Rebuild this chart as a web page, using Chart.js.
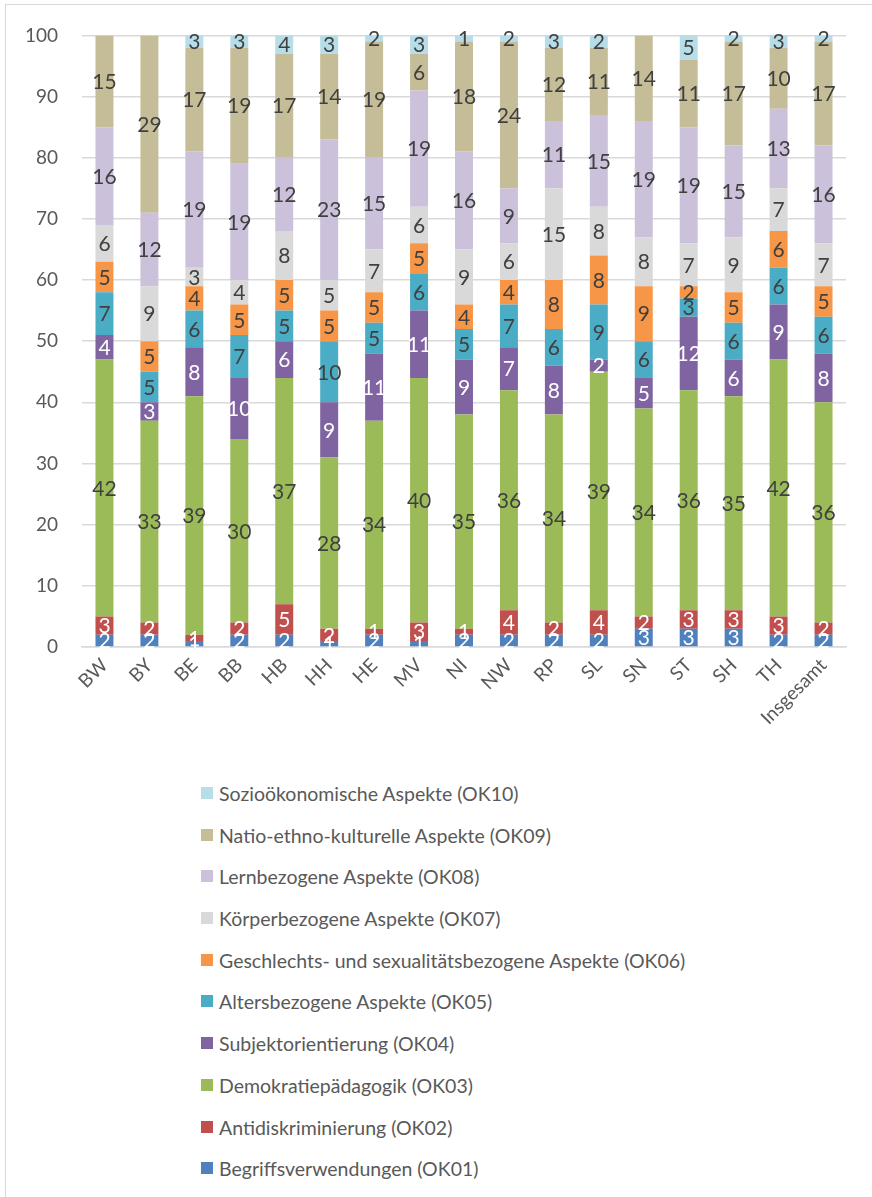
<!DOCTYPE html>
<html lang="de">
<head>
<meta charset="utf-8">
<title>Orientierungskategorien nach Ländern</title>
<script src="https://cdn.jsdelivr.net/npm/chart.js@4"></script>
<style>
  html, body { margin: 0; padding: 0; background: #fff; overflow: hidden; }
  #page { position: relative; width: 872px; height: 1197px; overflow: hidden; }
  #frame { position: absolute; left: 5px; top: 4px; width: 920px; height: 1250px;
           border: 1.5px solid #d9d9d9; box-sizing: border-box; }
  #chartBox { position: absolute; left: 0; top: 0; width: 872px; height: 770px; }
  #legend { position: absolute; left: 201px; top: 782px; margin: 0; padding: 0; list-style: none;
            font-family: Lato, "Open Sans", sans-serif; font-size: 19.5px; color: #595959; }
  #legend li { height: 41.7px; display: flex; align-items: flex-start; white-space: nowrap; }
  #legend .box { width: 12px; height: 12px; margin-top: 5px; margin-right: 6px; flex: none; }
</style>
</head>
<body>
<div id="page">
  <div id="frame"></div>
  <div id="chartBox"><canvas id="stackChart"></canvas></div>
  <ul id="legend"></ul>
</div>
<script>
const laender = ['BW', 'BY', 'BE', 'BB', 'HB', 'HH', 'HE', 'MV', 'NI', 'NW', 'RP', 'SL', 'SN', 'ST', 'SH', 'TH', 'Insgesamt'];

// Anteile in Prozent je Orientierungskategorie
const ok01 = [2, 2, 1, 2, 2, 1, 2, 1, 2, 2, 2, 2, 3, 3, 3, 2, 2];
const ok02 = [3, 2, 1, 2, 5, 2, 1, 3, 1, 4, 2, 4, 2, 3, 3, 3, 2];
const ok03 = [42, 33, 39, 30, 37, 28, 34, 40, 35, 36, 34, 39, 34, 36, 35, 42, 36];
const ok04 = [4, 3, 8, 10, 6, 9, 11, 11, 9, 7, 8, 2, 5, 12, 6, 9, 8];
const ok05 = [7, 5, 6, 7, 5, 10, 5, 6, 5, 7, 6, 9, 6, 3, 6, 6, 6];
const ok06 = [5, 5, 4, 5, 5, 5, 5, 5, 4, 4, 8, 8, 9, 2, 5, 6, 5];
const ok07 = [6, 9, 3, 4, 8, 5, 7, 6, 9, 6, 15, 8, 8, 7, 9, 7, 7];
const ok08 = [16, 12, 19, 19, 12, 23, 15, 19, 16, 9, 11, 15, 19, 19, 15, 13, 16];
const ok09 = [15, 29, 17, 19, 17, 14, 19, 6, 18, 24, 12, 11, 14, 11, 17, 10, 17];
const ok10 = [0, 0, 3, 3, 4, 3, 2, 3, 1, 2, 3, 2, 0, 5, 2, 3, 2];

const yTicks = [0, 10, 20, 30, 40, 50, 60, 70, 80, 90, 100];

const serien = [
  { label: 'Begriffsverwendungen (OK01)', data: ok01, color: '#4f81bd', text: '#ffffff' },
  { label: 'Antidiskriminierung (OK02)', data: ok02, color: '#c0504d', text: '#ffffff' },
  { label: 'Demokratiepädagogik (OK03)', data: ok03, color: '#9bbb59', text: '#404040' },
  { label: 'Subjektorientierung (OK04)', data: ok04, color: '#8064a2', text: '#ffffff' },
  { label: 'Altersbezogene Aspekte (OK05)', data: ok05, color: '#4bacc6', text: '#404040' },
  { label: 'Geschlechts- und sexualitätsbezogene Aspekte (OK06)', data: ok06, color: '#f79646', text: '#404040' },
  { label: 'Körperbezogene Aspekte (OK07)', data: ok07, color: '#d9d9d9', text: '#404040' },
  { label: 'Lernbezogene Aspekte (OK08)', data: ok08, color: '#ccc1da', text: '#404040' },
  { label: 'Natio-ethno-kulturelle Aspekte (OK09)', data: ok09, color: '#c4bd97', text: '#404040' },
  { label: 'Sozioökonomische Aspekte (OK10)', data: ok10, color: '#b7dee8', text: '#404040' }
];

const fontFamily = 'Lato, "Open Sans", sans-serif';

// Werte mittig in die Segmente schreiben
const segmentLabels = {
  id: 'segmentLabels',
  afterDatasetsDraw(chart) {
    const ctx = chart.ctx;
    const area = chart.chartArea;
    ctx.save();
    ctx.font = '21px ' + fontFamily;
    ctx.textAlign = 'center';
    ctx.textBaseline = 'middle';
    chart.data.datasets.forEach(function (ds, i) {
      const meta = chart.getDatasetMeta(i);
      meta.data.forEach(function (bar, j) {
        const v = ds.data[j];
        if (!v) return;
        const top = Math.max(bar.y, area.top);
        const bottom = Math.min(bar.base, area.bottom);
        if (bottom <= top) return;
        ctx.fillStyle = serien[i].text;
        ctx.fillText(String(v), bar.x, (top + bottom) / 2 + 1);
      });
    });
    ctx.restore();
  }
};

const ctx = document.getElementById('stackChart').getContext('2d');
new Chart(ctx, {
  type: 'bar',
  data: {
    labels: laender,
    datasets: serien.map(function (s) {
      return {
        label: s.label,
        data: s.data,
        backgroundColor: s.color,
        borderWidth: 0,
        barPercentage: 0.4,
        categoryPercentage: 1
      };
    })
  },
  options: {
    responsive: true,
    maintainAspectRatio: false,
    animation: false,
    layout: { padding: { top: 33, right: 26, left: 0, bottom: 0 } },
    plugins: {
      legend: { display: false },
      tooltip: { enabled: false }
    },
    scales: {
      x: {
        stacked: true,
        grid: { display: false, drawTicks: false },
        border: { color: '#d9d9d9', width: 1.5 },
        ticks: {
          color: '#595959',
          font: { family: fontFamily, size: 19 },
          minRotation: 45,
          maxRotation: 45,
          padding: 7
        },
        afterFit: function (scale) { scale.height = 770 - 647; }
      },
      y: {
        stacked: true,
        min: 0,
        max: 100,
        afterBuildTicks: function (scale) {
          scale.ticks = yTicks.map(function (v) { return { value: v }; });
        },
        grid: { color: '#d9d9d9', lineWidth: 1.5, drawTicks: false },
        border: { display: false },
        ticks: {
          color: '#595959',
          font: { family: fontFamily, size: 19 },
          padding: 24
        },
        afterFit: function (scale) { scale.width = 82; }
      }
    }
  },
  plugins: [segmentLabels]
});

// Legende: oberste Kategorie zuerst
const legend = document.getElementById('legend');
serien.slice().reverse().forEach(function (s) {
  const li = document.createElement('li');
  const box = document.createElement('span');
  box.className = 'box';
  box.style.background = s.color;
  li.appendChild(box);
  li.appendChild(document.createTextNode(s.label));
  legend.appendChild(li);
});
</script>
</body>
</html>
